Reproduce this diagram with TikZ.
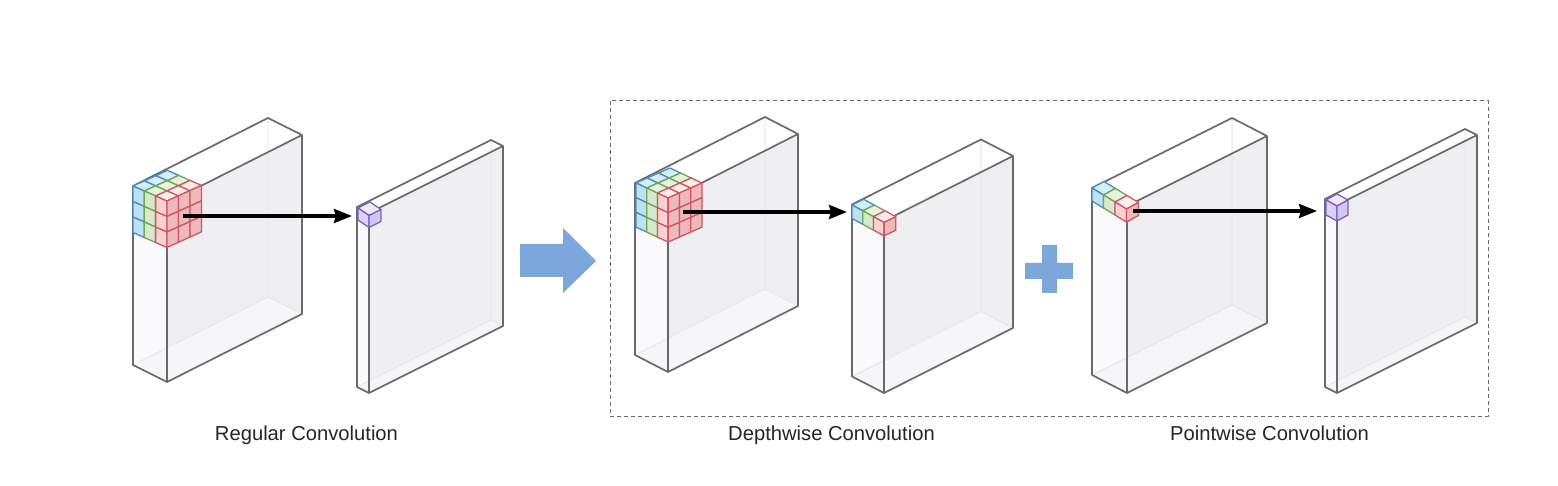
\documentclass[tikz,border=0pt]{standalone}
\usepackage{fontspec}
\setmainfont{Liberation Sans}
\usetikzlibrary{calc,arrows.meta}

\definecolor{edgegray}{HTML}{6A6A6A}
\definecolor{hiddengray}{HTML}{E8E7EA}
\definecolor{sidegray}{HTML}{EFEEF1}
\definecolor{floorgray}{HTML}{F6F5F8}
\definecolor{leftgray}{HTML}{FAFAFC}
\definecolor{shapeblue}{HTML}{7CA7DB}

\definecolor{blueline}{HTML}{4A8CC4}
\definecolor{bluetop}{HTML}{D6EEF6}
\definecolor{blueleft}{HTML}{BCE2F0}
\definecolor{blueright}{HTML}{BCE2F0}
\definecolor{greenline}{HTML}{6EA656}
\definecolor{greentop}{HTML}{E6F2DC}
\definecolor{greenleft}{HTML}{D7E8CC}
\definecolor{greenright}{HTML}{D7E8CC}
\definecolor{redline}{HTML}{CF5663}
\definecolor{redtop}{HTML}{FBEDEB}
\definecolor{redleft}{HTML}{F6D3D2}
\definecolor{redright}{HTML}{EDB9BA}
\definecolor{purpleline}{HTML}{7B5FC0}
\definecolor{purpletop}{HTML}{EFE9FA}
\definecolor{purpleleft}{HTML}{DCD1F2}
\definecolor{purpleright}{HTML}{D3C6EE}

\tikzset{
	edgeline/.style={draw=edgegray,line width=1.7pt,line join=round},
	hiddenline/.style={draw=hiddengray,line width=1pt},
	flowarrow/.style={line width=3.4pt,-{Stealth[length=18pt,width=14pt,inset=2pt]}},
	caption/.style={anchor=base,text=black!85,font=\fontsize{20.2}{24}\selectfont},
	cellline/.style={line width=1.3pt,line join=round}
}

% front top corner, thickness, length, height
\newcommand{\slab}[4]{
	\coordinate (ft) at (#1);
	\coordinate (lt) at ($(ft)-(#2)$);
	\coordinate (rt) at ($(ft)+(#3)$);
	\coordinate (bt) at ($(lt)+(#3)$);
	\coordinate (fb) at ($(ft)+(0,#4)$);
	\coordinate (lb) at ($(lt)+(0,#4)$);
	\coordinate (rb) at ($(rt)+(0,#4)$);
	\coordinate (bb) at ($(bt)+(0,#4)$);
	\fill[sidegray] (ft) -- (rt) -- (rb) -- (fb) -- cycle;
	\fill[leftgray] (lt) -- (ft) -- (fb) -- (lb) -- cycle;
	\fill[white] (lt) -- (bt) -- (rt) -- (ft) -- cycle;
	\fill[floorgray] (lb) -- (bb) -- (rb) -- (fb) -- cycle;
	\draw[hiddenline] (bt) -- (bb) -- (rb);
	\draw[hiddenline] (bb) -- (lb);
	\draw[edgeline] (lt) -- (bt) -- (rt) -- (rb) -- (fb) -- (lb) -- cycle;
	\draw[edgeline] (lt) -- (ft) -- (rt);
	\draw[edgeline] (ft) -- (fb);
}

\newcommand{\facet}[4]{
	\filldraw[cellline,#1] #2 -- ++(#3) -- ++(#4) -- ++($-1*(#3)$) -- cycle;
}

% left corner, step across, step along, cell height, colours, cell indices
\newcommand{\cubes}[6]{
	\coordinate (corner) at (#1);
	\coordinate (va) at (#2);
	\coordinate (vb) at (#3);
	\coordinate (vh) at (0,#4);
	\foreach \col [count=\i from 0] in {#5} {
		\foreach \j in {#6} {
			\facet{draw=\col line,fill=\col top}{($(corner)+\i*(va)+\j*(vb)$)}{va}{vb}
			\facet{draw=\col line,fill=\col left}{($(corner)+\i*(va)+\j*(vh)$)}{va}{vh}
		}
		\coordinate (lastcorner) at ($(corner)+\i*(va)+(va)$);
		\xdef\lastcol{\col}
	}
	\foreach \j in {#6} {
		\foreach \k in {#6} {
			\facet{draw=\lastcol line,fill=\lastcol right}{($(lastcorner)+\j*(vb)+\k*(vh)$)}{vb}{vh}
		}
	}
}

\begin{document}
\begin{tikzpicture}[x=1pt,y=-1pt]
	\useasboundingbox[fill=white] (0,0) rectangle (1558,486);

	\slab{167,203}{34,17}{135,-68}{179}
	\cubes{133,186}{11.3,5}{11.5,-5.2}{15.5}{blue,green,red}{0,1,2}
	\slab{369,213}{12,6}{134,-67}{180}
	\cubes{358,208}{11,7.5}{12,-6}{12}{purple}{0}

	\slab{668,200}{33,17}{130,-66}{172}
	\cubes{636,183}{10.7,5}{11.3,-5}{14.7}{blue,green,red}{0,1,2}
	\slab{884,221}{32,16.5}{129,-65}{172}
	\cubes{852,205}{10.7,5.8}{11.7,-5.7}{13.5}{blue,green,red}{0}

	\slab{1127,206}{35,18}{140,-70}{187}
	\cubes{1092,188}{11.5,7}{12,-6.5}{13}{blue,green,red}{0}
	\slab{1337,205}{12,6}{140,-70}{188}
	\cubes{1326,200}{11,6}{11,-6}{15}{purple}{0}

	\coordinate (regularfrom) at (183,216);
	\coordinate (regularto) at (352,216);
	\coordinate (depthfrom) at (683,212);
	\coordinate (depthto) at (847,212);
	\coordinate (pointfrom) at (1133,211);
	\coordinate (pointto) at (1317,211);
	\draw[flowarrow] (regularfrom) -- (regularto);
	\draw[flowarrow] (depthfrom) -- (depthto);
	\draw[flowarrow] (pointfrom) -- (pointto);

	\fill[shapeblue] (520,244) -- (563,244) -- (563,228) -- (596,261) -- (563,293) -- (563,277) -- (520,277) -- cycle;
	\fill[shapeblue] (1042,245) -- (1057,245) -- (1057,263) -- (1073,263) -- (1073,279) -- (1057,279) -- (1057,293) -- (1042,293) -- (1042,279) -- (1025,279) -- (1025,263) -- (1042,263) -- cycle;

	\draw[edgegray,line width=1pt,dash pattern=on 4pt off 3pt] (610,101) rectangle (1488,416);

	\node[caption] (regularlabel) at (306.5,440) {Regular Convolution};
	\node[caption] (depthlabel) at (831.5,440) {Depthwise Convolution};
	\node[caption] (pointlabel) at (1269.5,440) {Pointwise Convolution};
\end{tikzpicture}
\end{document}
